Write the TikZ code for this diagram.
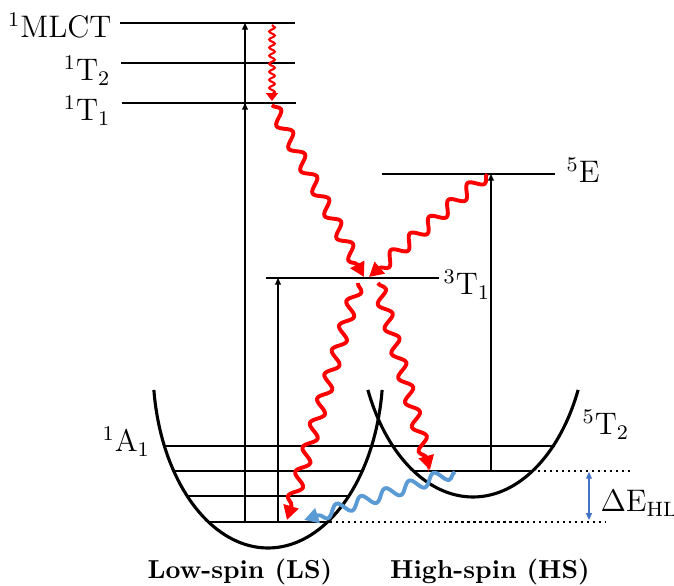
\documentclass[tikz,border=0pt]{standalone}
\usetikzlibrary{arrows.meta,decorations.pathmorphing}

\definecolor{relaxred}{RGB}{255,0,0}
\definecolor{tunnelblue}{RGB}{91,155,213}
\definecolor{gapblue}{RGB}{68,114,196}

\tikzset{
  lvl/.style={line width=1pt},
  well/.style={line width=1.2pt},
  guide/.style={line width=0.8pt, dash pattern=on 0.9pt off 1.4pt},
  absorb/.style={line width=0.4pt, -{Triangle[length=2.6pt,width=2.3pt]}},
  isc/.style={draw=relaxred, line width=1.5pt, decorate,
    decoration={snake, amplitude=2.3pt, segment length=9.8pt, post length=4pt},
    -{Triangle[length=5.5pt,width=5.8pt]}},
  ic/.style={draw=relaxred, line width=0.8pt, decorate,
    decoration={snake, amplitude=1.1pt, segment length=3.1pt, post length=2pt},
    -{Triangle[length=3pt,width=4.5pt]}},
  tunnel/.style={draw=tunnelblue, line width=1.5pt, decorate,
    decoration={snake, amplitude=2.2pt, segment length=9.8pt, post length=4pt},
    -{Triangle[length=5.5pt,width=5.8pt]}},
  lbl/.style={inner sep=0pt, font=\large},
  spin/.style={inner sep=0pt, font=\bfseries}
}

\begin{document}
\begin{tikzpicture}[x=0.385pt, y=-0.385pt]
  \useasboundingbox (0,0) rectangle (674,586);

  % potential wells
  \draw[well] plot[domain=7:173, samples=80] ({268+115*cos(\x)},{368+180*sin(\x)});
  \draw[well] plot[domain=23.9:156.1, samples=80] ({473+115*cos(\x)},{317+180*sin(\x)});

  % electronic levels
  \draw[lvl] (120,23) -- (295,23);
  \draw[lvl] (121,63) -- (295,63);
  \draw[lvl] (122,103) -- (296,103);
  \draw[lvl] (382,174) -- (555,174);
  \draw[lvl] (266,278) -- (439,278);

  % vibrational levels
  \draw[lvl] (163,446) -- (555,446);
  \draw[lvl] (173,471) -- (362,471);
  \draw[lvl] (415,471) -- (532,471) coordinate (hsR);
  \draw[lvl] (188,496) -- (348,496);
  \draw[lvl] (208,522) -- (330,522) coordinate (lsR);
  \draw[guide] (hsR) -- (632,471);
  \draw[guide] (lsR) -- (605,522);

  % end points of the transitions
  \coordinate (lsA) at (245,522);
  \coordinate (lsB) at (278,522);
  \coordinate (hs0) at (491,471);
  \coordinate (mlct) at (245,23);
  \coordinate (t1) at (245,103);
  \coordinate (t3) at (278,278);
  \coordinate (e5) at (491,174);

  % absorption
  \draw[absorb] (lsA) -- (t1);
  \draw[absorb] (lsA) -- (mlct);
  \draw[absorb] (lsB) -- (t3);
  \draw[absorb] (hs0) -- (e5);

  % relaxation cascade
  \coordinate (icS) at (272,25);
  \coordinate (icE) at (272,101);
  \coordinate (iscA) at (272,105);
  \coordinate (iscB) at (487,174);
  \coordinate (t3L) at (364,277);
  \coordinate (t3R) at (369,277);
  \coordinate (outL) at (358,283);
  \coordinate (outR) at (378,283);
  \coordinate (lsEnd) at (287,520);
  \coordinate (hsEnd) at (430,470);
  \coordinate (tunS) at (455,472);
  \coordinate (tunE) at (304,520);

  \draw[ic] (icS) -- (icE);
  \draw[isc] (iscA) -- (t3L);
  \draw[isc] (iscB) -- (t3R);
  \draw[isc] (outL) -- (lsEnd);
  \draw[isc] (outR) -- (hsEnd);
  \draw[tunnel] (tunS) -- (tunE);

  % energy gap
  \coordinate (gapT) at (589,472);
  \coordinate (gapB) at (589,520);
  \draw[gapblue, line width=0.5pt, {Triangle[length=2.6pt,width=2.3pt]}-{Triangle[length=2.6pt,width=2.3pt]}] (gapT) -- (gapB);

  % labels
  \node[lbl, anchor=base east] (nMLCT) at (112,38) {$^1\mathrm{MLCT}$};
  \node[lbl, anchor=base east] (nT2) at (111,81) {$^1\mathrm{T}_2$};
  \node[lbl, anchor=base east] (nT1) at (111,121) {$^1\mathrm{T}_1$};
  \node[lbl, anchor=base west] (nE) at (566,183) {$^5\mathrm{E}$};
  \node[lbl, anchor=base west] (nT3) at (443,295) {$^3\mathrm{T}_1$};
  \node[lbl, anchor=base west] (nA1) at (102,452) {$^1\mathrm{A}_1$};
  \node[lbl, anchor=base west] (nT5) at (582,435) {$^5\mathrm{T}_2$};
  \node[lbl, anchor=base west] (nGap) at (600,512) {$\Delta\mathrm{E}_\mathrm{HL}$};
  \node[spin, anchor=base] (nLS) at (240,579) {Low-spin (LS)};
  \node[spin, anchor=base] (nHS) at (490,579) {High-spin (HS)};
\end{tikzpicture}
\end{document}
